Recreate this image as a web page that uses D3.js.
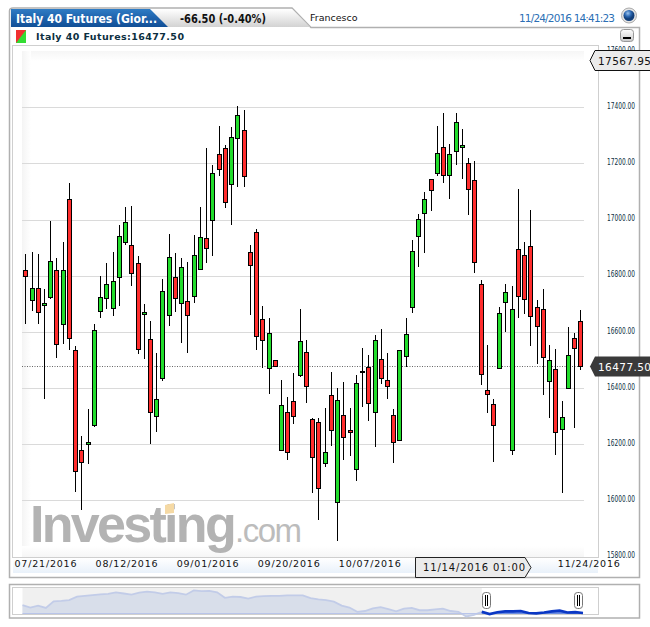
<!DOCTYPE html>
<html>
<head>
<meta charset="utf-8">
<style>
html, body { margin: 0; padding: 0; background: #fff; overflow: hidden; }
svg { display: block; }
text { font-family: "DejaVu Sans", sans-serif; }
</style>
<script src="https://cdn.jsdelivr.net/npm/d3@7"></script>
</head>
<body>
<script>
const opens = [16819,16713,16755,16694,16723,16819,16627,17072,16534,16178,16199,16267,16673,16719,16684,16794,16919,16908,16844,16662,16573,16299,
	16434,16659,16794,16701,16709,16726,16823,16933,16997,17233,17254,17126,17290,17318,16883,16955,16644,16470,16498,16178,16313,16352,16445,16527,
	16288,16277,16131,16374,15992,16302,16249,16110,16459,16473,16313,16502,16427,16302,16213,16513,16687,16940,17022,17143,17165,17257,17158,17243,
	17257,17200,17140,16769,16391,16341,16470,16705,16178,16894,16872,16905,16687,16680,16424,16466,16252,16399,16577,16637]
const closes = [16798,16755,16669,16701,16851,16555,16819,16577,16103,16135,16208,16605,16723,16769,16780,16940,16990,16808,16538,16669,16313,16359,
	16744,16865,16719,16830,16659,16872,16937,16897,17165,17179,17061,17293,17372,17154,16837,16584,16570,16595,16477,16338,16170,16299,16566,16406,
	16153,16042,16170,16249,16356,16224,16242,16416,16458,16345,16570,16434,16406,16206,16534,16591,16887,17001,17072,17104,17236,17158,17233,17347,
	17265,17108,16848,16448,16377,16267,16666,16741,16680,16726,16716,16655,16620,16509,16498,16242,16295,16516,16541,16477.5]
const highs = [16878,16883,16878,16752,16994,16862,16919,17129,16548,16227,16324,16627,16798,16844,16883,16979,17044,17047,16869,16698,16637,16523,
	16788,16948,16880,16862,16848,16944,17044,17254,17193,17332,17265,17329,17405,17389,16908,16965,16692,16648,16498,16427,16366,16452,16680,16570,
	16292,16292,16327,16458,16399,16420,16327,16445,16542,16517,16587,16609,16523,16324,16534,16648,16927,17019,17097,17143,17332,17379,17268,17379,
	17322,17218,17208,16783,16552,16359,16687,16769,16762,17108,16919,17033,16712,16752,16552,16538,16352,16618,16595,16677]
const lows = [16629,16674,16629,16359,16717,16508,16555,16534,16028,15964,16128,16260,16648,16680,16655,16691,16908,16764,16520,16504,16199,16244,
	16423,16620,16669,16559,16524,16704,16823,16844,16869,17154,17040,16979,17115,17115,16659,16534,16470,16379,16477,16178,16142,16270,16439,16345,
	16024,15928,16119,16192,15853,16143,16157,16068,16333,16283,16189,16413,16359,16133,16213,16473,16668,16830,16880,17029,17154,17129,17074,17194,
	17143,17015,16808,16409,16309,16137,16470,16598,16160,16648,16662,16548,16484,16374,16294,16160,16024,16399,16258,16463]

const yTicks = [17600,17400,17200,17000,16800,16600,16400,16200,16000,15800]
const dateLabels = ['07/21/2016','08/12/2016','09/01/2016','09/20/2016','10/07/2016','11/24/2016']
const dateIndexes = [3,16,29,42,55,89]

const highLevel = 17567.95
const lastPrice = 16477.5
const hoverIndex = 72
const hoverLabel = '11/14/2016 01:00'

// overview strip on a 0-100 scale
const overview = [43,37,42,36,53,54,56,65,67,69,71,72,76,73,70,75,78,76,72,76,74,70,81,79,80,76,62,65,64,60,65,66,67,67,68,68,68,61,58,56,52,42,37,26,28,35,38,33,27,34,36,30,30,32,34,28,26,14,18,26,20,25,27,27,28,23,22,24,27,29,24,25,23]
const overviewStart = 59

const width = 650
const height = 627

const svg = d3.select('body').append('svg')
	.attr('width', width)
	.attr('height', height)

const defs = svg.append('defs')

function gradient(id, x2, y2, stops) {
	let g = defs.append('linearGradient').attr('id', id)
		.attr('x1', 0).attr('y1', 0).attr('x2', x2).attr('y2', y2)
	stops.forEach(s => g.append('stop').attr('offset', s[0]).attr('stop-color', s[1]))
}

gradient('blueTab', 0, 1, [[0, '#2f7cc4'], [0.5, '#1f63ad'], [1, '#114f96']])
gradient('grayTab', 0, 1, [[0, '#ffffff'], [1, '#d2d2d2']])
gradient('fadeTop', 0, 1, [[0, '#f6f6f6'], [1, '#ffffff']])
gradient('fadeBottom', 0, 1, [[0, '#ffffff'], [1, '#f6f6f6']])
gradient('fadeLeft', 1, 0, [[0, '#f4f4f4'], [1, '#ffffff']])
gradient('axisStrip', 0, 1, [[0, '#ffffff'], [1, '#e9f1fa']])
gradient('button', 0, 1, [[0, '#ffffff'], [1, '#c9c9c9']])
let globe = defs.append('radialGradient').attr('id', 'globe').attr('cx', 0.4).attr('cy', 0.3)
globe.append('stop').attr('offset', 0).attr('stop-color', '#9cc4ee')
globe.append('stop').attr('offset', 0.6).attr('stop-color', '#2a66b0')
globe.append('stop').attr('offset', 1).attr('stop-color', '#123f7a')

// frame
svg.append('path')
	.attr('d', 'M9.5,577.5 V11 Q9.5,8 13,8 H292 L311,27.5 H639.5 V577.5 Z')
	.attr('fill', '#fff')
	.attr('stroke', '#b0b0b0')
	.attr('stroke-width', 1.5)

svg.append('path')
	.attr('d', 'M11,9 H292 L310,27 H11 Z')
	.attr('fill', 'url(#grayTab)')
svg.append('path')
	.attr('d', 'M11,9 H150 L168,27 H11 Z')
	.attr('fill', 'url(#blueTab)')

svg.append('text').attr('x', 16).attr('y', 22.5)
	.attr('fill', '#fff').attr('font-size', 12).attr('font-weight', 'bold')
	.attr('textLength', 141).attr('lengthAdjust', 'spacingAndGlyphs')
	.text('Italy 40 Futures (Gior...')
svg.append('text').attr('x', 180).attr('y', 22.5)
	.attr('fill', '#111').attr('font-size', 12).attr('font-weight', 'bold')
	.attr('textLength', 86).attr('lengthAdjust', 'spacingAndGlyphs')
	.text('-66.50 (-0.40%)')
svg.append('text').attr('x', 310).attr('y', 21)
	.attr('fill', '#111').attr('font-size', 9.5)
	.text('Francesco')
svg.append('text').attr('x', 519).attr('y', 21.5)
	.attr('fill', '#2b6fb5').attr('font-size', 10.5)
	.attr('textLength', 96)
	.text('11/24/2016 14:41:23')
svg.append('circle').attr('cx', 629).attr('cy', 15.5).attr('r', 7.5)
	.attr('fill', '#e4e4e4').attr('stroke', '#aaa')
svg.append('circle').attr('cx', 629).attr('cy', 15.5).attr('r', 5.5)
	.attr('fill', 'url(#globe)')

// title row
svg.append('path').attr('d', 'M16,30 H26 V43 H16 Z').attr('fill', '#33dd33')
svg.append('path').attr('d', 'M16,30 H26 L16,43 Z').attr('fill', '#f03030')
svg.append('text').attr('x', 36).attr('y', 40)
	.attr('fill', '#0c2f3f').attr('font-size', 9.5).attr('font-weight', 'bold')
	.attr('textLength', 148)
	.text('Italy 40 Futures:16477.50')

svg.append('rect').attr('x', 620.5).attr('y', 29.5).attr('width', 13).attr('height', 12).attr('rx', 3)
	.attr('fill', 'url(#button)').attr('stroke', '#999')
svg.append('rect').attr('x', 623).attr('y', 37).attr('width', 8).attr('height', 2).attr('fill', '#000')

// plot box
const plotLeft = 22
const plotRight = 584
const plotTop = 51
const plotBottom = 557

svg.append('rect').attr('x', 12.5).attr('y', 45.5).attr('width', 586).attr('height', 512)
	.attr('fill', '#fff').attr('stroke', '#cfcfcf')
svg.append('rect').attr('x', 13).attr('y', 558).attr('width', 585).attr('height', 15).attr('fill', 'url(#axisStrip)')
svg.append('rect').attr('x', plotLeft).attr('y', plotTop).attr('width', plotRight - plotLeft).attr('height', 10).attr('fill', 'url(#fadeTop)')
svg.append('rect').attr('x', plotLeft).attr('y', plotTop).attr('width', 9).attr('height', plotBottom - plotTop).attr('fill', 'url(#fadeLeft)')
svg.append('rect').attr('x', plotLeft).attr('y', 546).attr('width', plotRight - plotLeft).attr('height', 11).attr('fill', 'url(#fadeBottom)')

const y = d3.scaleLinear().domain([15800, 17400]).range([556.3, 107.3])
const x = d3.scaleLinear().domain([0, opens.length - 1]).range([25.3, 580.3])
const snap = v => Math.round(v) + 0.5

// grid
svg.append('g').selectAll('line')
	.data(yTicks.filter(d => d < 17600 && d > 15800))
	.enter()
	.append('line')
	.attr('x1', plotLeft)
	.attr('x2', plotRight)
	.attr('y1', d => snap(y(d)))
	.attr('y2', d => snap(y(d)))
	.attr('stroke', '#dadada')
	.attr('stroke-width', 1.2)

// watermark
svg.append('text').attr('x', 30).attr('y', 542)
	.attr('fill', '#b3b3b3').attr('font-size', 52).attr('font-weight', 'bold')
	.style('font-family', '"Liberation Sans", sans-serif')
	.style('letter-spacing', '-2.7px')
	.text('Investing')
svg.append('path').attr('d', 'M165,505 L174,503 L174,513 L165,514 Z').attr('fill', '#f5d9a4')
svg.append('text').attr('x', 235).attr('y', 542)
	.attr('fill', '#bcbcbc').attr('font-size', 33)
	.style('font-family', '"Liberation Sans", sans-serif')
	.style('letter-spacing', '-1.5px')
	.text('.com')

// last price line
svg.append('line')
	.attr('x1', plotLeft).attr('x2', plotRight)
	.attr('y1', snap(y(lastPrice))).attr('y2', snap(y(lastPrice)))
	.attr('stroke', '#666').attr('stroke-dasharray', '1,1.5')

// candles
const candles = svg.append('g').selectAll('g')
	.data(d3.range(opens.length))
	.enter()
	.append('g')

candles.append('line')
	.attr('x1', i => snap(x(i)))
	.attr('x2', i => snap(x(i)))
	.attr('y1', i => Math.round(y(highs[i])))
	.attr('y2', i => Math.round(y(lows[i])))
	.attr('stroke', '#000')

candles.append('rect')
	.attr('x', i => snap(x(i)) - 2)
	.attr('width', 4)
	.attr('y', i => snap(y(Math.max(opens[i], closes[i]))))
	.attr('height', i => Math.max(Math.round(y(Math.min(opens[i], closes[i]))) - Math.round(y(Math.max(opens[i], closes[i]))), 1))
	.attr('fill', i => closes[i] >= opens[i] ? '#22dd2c' : '#ff2d2d')
	.attr('stroke', '#000')

// price axis
const yAxis = svg.append('g')
	.attr('transform', 'translate(607,-1.5)')
	.call(d3.axisRight(y).tickValues(yTicks).tickSize(0).tickPadding(0).tickFormat(d3.format('.2f')))
yAxis.select('.domain').remove()
yAxis.selectAll('text')
	.attr('x', 0)
	.attr('fill', '#0c2f3f')
	.attr('font-size', 8.5)
	.attr('textLength', 28)
	.attr('lengthAdjust', 'spacingAndGlyphs')
	.style('font-family', '"DejaVu Sans", sans-serif')

// date axis
const xAxis = svg.append('g')
	.attr('transform', 'translate(1,559)')
	.call(d3.axisBottom(x).tickValues(dateIndexes).tickSize(0).tickPadding(0)
		.tickFormat(d => dateLabels[dateIndexes.indexOf(d)]))
xAxis.select('.domain').remove()
xAxis.selectAll('text')
	.attr('y', 1)
	.attr('fill', '#111')
	.attr('font-size', 9.5)
	.attr('textLength', 62)
	.style('font-family', '"DejaVu Sans", sans-serif')
xAxis.selectAll('.tick').filter(d => d === 89).select('text').attr('dx', 7)

// price tags
const tag = (value, fill, stroke, textFill) => {
	let cy = snap(y(value))
	let g = svg.append('g').attr('transform', 'translate(0,' + cy + ')')
	g.append('path')
		.attr('d', 'M650,-10 H595 L590,0 L595,10 H650')
		.attr('fill', fill)
		.attr('stroke', stroke)
	g.append('text').attr('x', 598).attr('y', 4)
		.attr('fill', textFill).attr('font-size', 10.5)
		.attr('textLength', 53)
		.text(d3.format('.2f')(value))
}
tag(highLevel, '#ebebeb', '#111', '#111')
tag(lastPrice, '#3a3a3a', 'none', '#fff')

// hover date tag
const hoverX = snap(x(hoverIndex))
svg.append('path')
	.attr('d', 'M' + (hoverX - 59) + ',557.5 H' + (hoverX + 50.5) + ' L' + (hoverX + 56.5) + ',567.5 L' + (hoverX + 50.5) + ',577.5 H' + (hoverX - 59) + ' Z')
	.attr('fill', '#ebebeb').attr('stroke', '#222')
svg.append('text').attr('x', hoverX - 51.5).attr('y', 570.5)
	.attr('fill', '#111').attr('font-size', 10)
	.attr('textLength', 102)
	.text(hoverLabel)

// overview strip
svg.append('rect').attr('x', 9.5).attr('y', 584.5).attr('width', 630).attr('height', 33.5)
	.attr('fill', '#fff').attr('stroke', '#b0b0b0').attr('stroke-width', 1.5)
svg.append('rect').attr('x', 12.5).attr('y', 587.5).attr('width', 586).attr('height', 27)
	.attr('fill', '#fff').attr('stroke', '#cfcfcf')

const navX = d3.scaleLinear().domain([0, overview.length - 1]).range([22.5, 583])
const navY = d3.scaleLinear().domain([0, 100]).range([621.9, 583])
const navBase = 614

svg.append('rect').attr('x', 22.5).attr('y', 588).attr('width', 560.5).attr('height', 26).attr('fill', '#f0f0f0')
svg.append('rect').attr('x', navX(overviewStart)).attr('y', 588).attr('width', 583 - navX(overviewStart)).attr('height', 26).attr('fill', '#fff')

const navArea = d3.area().x((d, i) => navX(i)).y0(navBase).y1(d => navY(d))
const navLine = d3.line().x((d, i) => navX(i)).y(d => navY(d))

const restPart = overview.map((d, i) => i <= overviewStart ? d : null)
const restDefined = d => d !== null

svg.append('path').datum(restPart)
	.attr('d', navArea.defined(restDefined))
	.attr('fill', '#d8deea')
svg.append('path').datum(restPart)
	.attr('d', navLine.defined(restDefined))
	.attr('fill', 'none').attr('stroke', '#c2cce8').attr('stroke-width', 1.8)
svg.append('line').attr('x1', 22.5).attr('x2', navX(overviewStart)).attr('y1', 613.5).attr('y2', 613.5)
	.attr('stroke', '#b9c5ea')

const selPart = overview.map((d, i) => i >= overviewStart ? d : null)
svg.append('path').datum(selPart)
	.attr('d', navArea.defined(restDefined))
	.attr('fill', '#6c8de0')
svg.append('path').datum(selPart)
	.attr('d', navLine.defined(restDefined))
	.attr('fill', 'none').attr('stroke', '#0a37c4').attr('stroke-width', 2.6)

// handles sit just inside the selected range
const handles = svg.append('g').selectAll('g')
	.data([[overviewStart, 4.5], [overview.length - 1, -5]])
	.enter()
	.append('g')
	.attr('transform', d => 'translate(' + Math.round(navX(d[0]) + d[1]) + ',0)')
handles.append('rect')
	.attr('x', -3.5).attr('y', 592.5).attr('width', 8).attr('height', 16).attr('rx', 3)
	.attr('fill', '#fff').attr('stroke', '#777')
handles.append('rect').attr('x', -1).attr('y', 595).attr('width', 1).attr('height', 11).attr('fill', '#000')
handles.append('rect').attr('x', 1).attr('y', 595).attr('width', 1).attr('height', 11).attr('fill', '#000')
</script>
</body>
</html>
